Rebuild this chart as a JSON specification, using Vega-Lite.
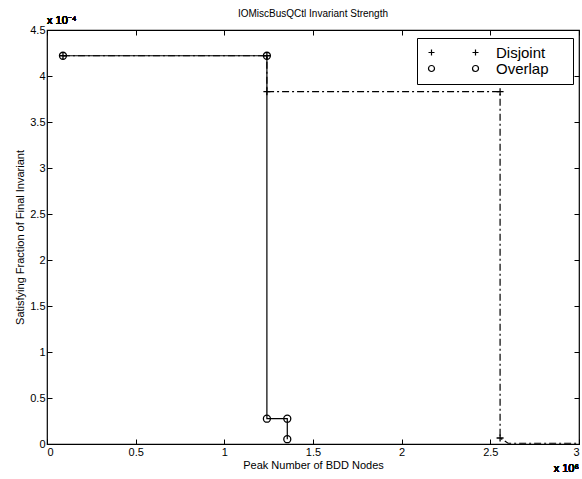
{
  "$schema": "https://vega.github.io/schema/vega-lite/v6.json",
  "autosize": {"type": "none"},
  "padding": {"left": 47, "top": 30, "right": 3, "bottom": 35},
  "width": 532,
  "height": 414,
  "background": "white",
  "title": {"text": "IOMiscBusQCtl Invariant Strength", "fontSize": 10, "fontWeight": "normal", "font": "Liberation Sans", "offset": -4, "color": "black"},
  "data": {"values": [
    {"series": "Disjoint", "i": 0, "nodes": 90000, "fraction": 0.000422},
    {"series": "Disjoint", "i": 1, "nodes": 1240000, "fraction": 0.000422},
    {"series": "Disjoint", "i": 2, "nodes": 1240000, "fraction": 0.000383},
    {"series": "Disjoint", "i": 3, "nodes": 2555000, "fraction": 0.000383},
    {"series": "Disjoint", "i": 4, "nodes": 2555000, "fraction": 0.0000065},
    {"series": "Disjoint", "i": 5, "nodes": 2600000, "fraction": 0.0000008},
    {"series": "Disjoint", "i": 6, "nodes": 3000000, "fraction": 0.0000008},
    {"series": "Overlap", "i": 0, "nodes": 90000, "fraction": 0.000422},
    {"series": "Overlap", "i": 1, "nodes": 1240000, "fraction": 0.000422},
    {"series": "Overlap", "i": 2, "nodes": 1240000, "fraction": 0.0000275},
    {"series": "Overlap", "i": 3, "nodes": 1355000, "fraction": 0.0000275},
    {"series": "Overlap", "i": 4, "nodes": 1355000, "fraction": 0.0000052}
  ]},
  "layer": [
    {
      "transform": [{"filter": "datum.series === 'Disjoint'"}],
      "mark": {"type": "line", "color": "black", "strokeWidth": 1.2, "strokeDash": [7, 3, 2, 3], "clip": true},
      "encoding": {
        "x": {"field": "nodes", "type": "quantitative", "scale": {"domain": [0, 3000000], "nice": false},
              "axis": {"orient": "bottom", "values": [0, 500000, 1000000, 1500000, 2000000, 2500000, 3000000], "labelExpr": "format(datum.value/1e6, '.2~f')", "title": "Peak Number of BDD Nodes", "titlePadding": 2}},
        "y": {"field": "fraction", "type": "quantitative", "scale": {"domain": [0, 0.00045], "nice": false},
              "axis": {"orient": "left", "values": [0, 0.00005, 0.0001, 0.00015, 0.0002, 0.00025, 0.0003, 0.00035, 0.0004, 0.00045], "labelExpr": "format(datum.value*1e4, '.2~f')", "title": "Satisfying Fraction of Final Invariant", "titlePadding": 4}},
        "order": {"field": "i", "type": "quantitative"}
      }
    },
    {
      "transform": [{"filter": "datum.series === 'Overlap'"}],
      "mark": {"type": "line", "color": "black", "strokeWidth": 1.2, "clip": true},
      "encoding": {
        "x": {"field": "nodes", "type": "quantitative", "axis": null},
        "y": {"field": "fraction", "type": "quantitative", "axis": null},
        "order": {"field": "i", "type": "quantitative"}
      }
    },
    {
      "transform": [{"filter": "datum.series === 'Disjoint' && datum.nodes < 3000000 && datum.i != 5"}],
      "mark": {"type": "point", "filled": false, "color": "black", "strokeWidth": 1.3, "size": 49, "opacity": 1, "shape": "M-1,0H1M0,-1V1"},
      "encoding": {
        "x": {"field": "nodes", "type": "quantitative", "axis": null},
        "y": {"field": "fraction", "type": "quantitative", "axis": null}
      }
    },
    {
      "transform": [{"filter": "datum.series === 'Overlap'"}],
      "mark": {"type": "point", "filled": false, "color": "black", "strokeWidth": 1.3, "size": 49, "opacity": 1, "shape": "circle"},
      "encoding": {
        "x": {"field": "nodes", "type": "quantitative", "axis": null},
        "y": {"field": "fraction", "type": "quantitative", "axis": null}
      }
    },
    {
      "transform": [{"filter": "datum.i == 0"}],
      "mark": {"type": "point", "filled": false, "color": "black", "strokeWidth": 1.2, "opacity": 0},
      "encoding": {
        "x": {"field": "nodes", "type": "quantitative", "axis": null},
        "y": {"field": "fraction", "type": "quantitative", "axis": null},
        "shape": {"field": "series", "type": "nominal",
          "scale": {"domain": ["Disjoint", "Overlap"], "range": ["M-1,0H1M0,-1V1M13.67,0H15.67M14.67,-1V1M43.7,0", "M1,0A1,1,0,1,1,-1,0A1,1,0,1,1,1,0M15.67,0A1,1,0,1,1,13.67,0A1,1,0,1,1,15.67,0M43.7,0"]},
          "legend": {
            "title": null, "orient": "none", "legendX": 370, "legendY": 8,
            "strokeColor": "black", "fillColor": "white", "padding": 7,
            "rowPadding": 0, "symbolSize": 36, "symbolStrokeWidth": 1.2, "symbolStrokeColor": "black", "symbolFillColor": "transparent", "symbolOpacity": 1,
            "labelFontSize": 15, "labelFont": "Liberation Sans", "labelColor": "black", "labelOffset": 57
          }}
      }
    },
    {
      "mark": {"type": "text", "text": "x 10⁻⁴", "align": "left", "baseline": "bottom", "dy": -4, "fontSize": 11, "font": "Liberation Sans", "color": "black", "clip": false},
      "encoding": {"x": {"datum": 0, "type": "quantitative", "axis": null}, "y": {"datum": 0.00045, "type": "quantitative", "axis": null}}
    },
    {
      "mark": {"type": "text", "text": "x 10⁶", "align": "right", "baseline": "middle", "dy": 25, "fontSize": 11, "font": "Liberation Sans", "color": "black", "clip": false},
      "encoding": {"x": {"datum": 3000000, "type": "quantitative", "axis": null}, "y": {"datum": 0, "type": "quantitative", "axis": null}}
    },
    {
      "mark": {"type": "point", "opacity": 0},
      "encoding": {
        "x": {"field": "nodes", "type": "quantitative", "axis": {"orient": "top", "values": [0, 500000, 1000000, 1500000, 2000000, 2500000, 3000000], "labels": false, "title": null}},
        "y": {"field": "fraction", "type": "quantitative", "axis": {"orient": "right", "values": [0, 0.00005, 0.0001, 0.00015, 0.0002, 0.00025, 0.0003, 0.00035, 0.0004, 0.00045], "labels": false, "title": null}}
      }
    }
  ],
  "resolve": {"axis": {"x": "independent", "y": "independent"}},
  "config": {
    "font": "Liberation Sans",
    "view": {"stroke": "black", "strokeWidth": 1.2},
    "axis": {"grid": false, "domain": false, "tickColor": "black", "tickSize": -5, "tickWidth": 1, "labelColor": "black", "labelFontSize": 11, "labelFont": "Liberation Sans", "labelPadding": 7, "titleFont": "Liberation Sans", "titleFontSize": 11, "titleFontWeight": "normal", "titleColor": "black"}
  }
}
